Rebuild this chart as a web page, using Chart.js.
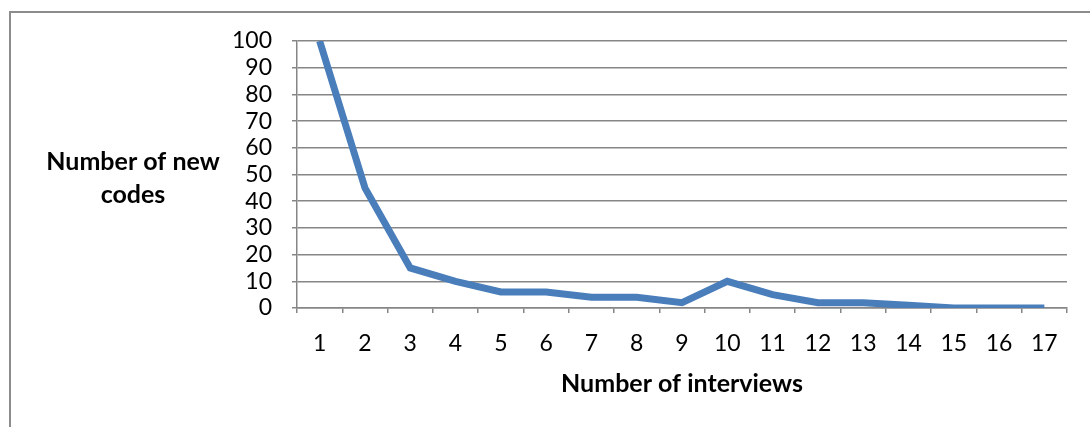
<!DOCTYPE html>
<html>
<head>
<meta charset="utf-8">
<script src="https://cdn.jsdelivr.net/npm/chart.js@4.4.1/dist/chart.umd.min.js"></script>
<style>
  html, body { margin: 0; padding: 0; background: #fff; }
  #wrap { position: relative; width: 1090px; height: 427px; }
</style>
</head>
<body>
<div id="wrap"><canvas id="codesChart" width="1090" height="427"></canvas></div>
<script>
// Data
const interviews = ['1', '2', '3', '4', '5', '6', '7', '8', '9', '10', '11', '12', '13', '14', '15', '16', '17'];
const newCodes = [100, 45, 15, 10, 6, 6, 4, 4, 2, 10, 5, 2, 2, 1, 0, 0, 0];
const yTitleLines = ['Number of new', 'codes'];
const xTitle = 'Number of interviews';

const FONT = 'Lato, "Open Sans", sans-serif';
const GRID = '#868686';

// frame + horizontal y-title
const extras = {
    id: 'extras',
    beforeDraw(chart) {
        const ctx = chart.ctx;
        ctx.save();
        ctx.fillStyle = '#fff';
        ctx.fillRect(0, 0, chart.width, chart.height);
        ctx.strokeStyle = '#8c8c8c';
        ctx.lineWidth = 2;
        ctx.beginPath();
        ctx.moveTo(10, chart.height + 5);
        ctx.lineTo(10, 12);
        ctx.lineTo(chart.width + 5, 12);
        ctx.stroke();
        ctx.restore();
    },
    afterDraw(chart) {
        const ctx = chart.ctx;
        ctx.save();
        ctx.fillStyle = '#000';
        ctx.font = 'bold 25px ' + FONT;
        ctx.textAlign = 'center';
        ctx.textBaseline = 'middle';
        yTitleLines.forEach((line, i) => ctx.fillText(line, 133, 162 + i * 33));
        ctx.restore();
    }
};

new Chart(document.getElementById('codesChart').getContext('2d'), {
    type: 'line',
    data: {
        labels: interviews,
        datasets: [{
            data: newCodes,
            borderColor: '#4A7EBB',
            borderWidth: 7,
            pointRadius: 0,
            tension: 0,
            fill: false
        }]
    },
    options: {
        responsive: false,
        animation: false,
        layout: { padding: { top: 41, right: 23, left: 0, bottom: 0 } },
        plugins: {
            legend: { display: false },
            tooltip: { enabled: false }
        },
        scales: {
            y: {
                min: 0,
                max: 100,
                afterFit: (scale) => { scale.width = 297; },
                ticks: {
                    stepSize: 10,
                    autoSkip: false,
                    color: '#000',
                    padding: 20,
                    font: { family: FONT, size: 23 }
                },
                grid: { color: GRID, lineWidth: 1.5, tickLength: 5 },
                border: { color: GRID, width: 1.5 }
            },
            x: {
                offset: true,
                afterFit: (scale) => { scale.height = 119; },
                ticks: {
                    color: '#000',
                    padding: 17,
                    autoSkip: false,
                    maxRotation: 0,
                    font: { family: FONT, size: 23 }
                },
                grid: { offset: true, drawOnChartArea: false, color: GRID, lineWidth: 1.5, tickLength: 5 },
                border: { color: GRID, width: 1.5 },
                title: {
                    display: true,
                    text: xTitle,
                    color: '#000',
                    padding: { top: 0, bottom: 28 },
                    font: { family: FONT, size: 25, weight: 'bold' }
                }
            }
        }
    },
    plugins: [extras]
});
</script>
</body>
</html>
